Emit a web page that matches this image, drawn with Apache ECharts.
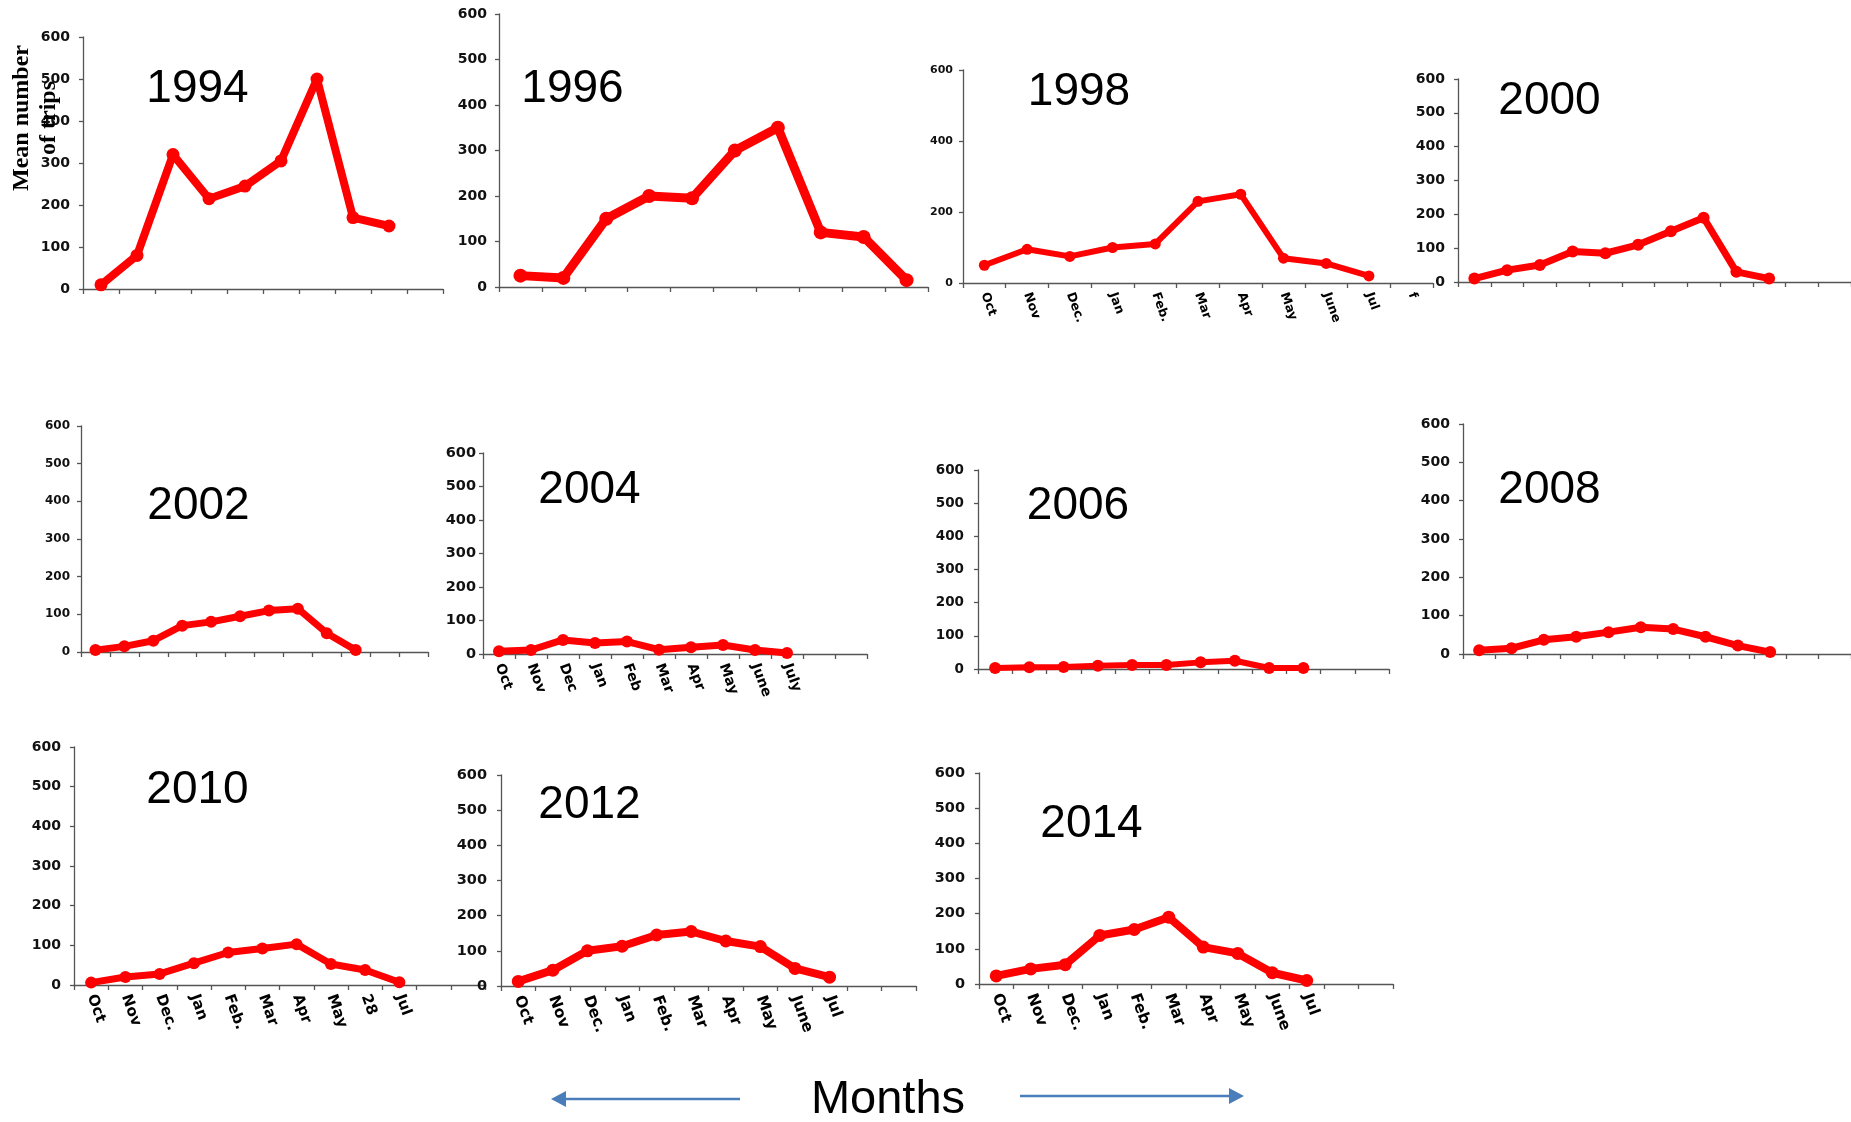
<!DOCTYPE html>
<html><head><meta charset="utf-8">
<script src="https://cdn.jsdelivr.net/npm/echarts@6/dist/echarts.min.js"></script>
<style>html,body{margin:0;padding:0;background:#fff}#c{width:1851px;height:1122px}</style>
</head><body><div id="c"></div>
<script>
// ---- data ----
const years = ['1994','1996','1998','2000','2002','2004','2006','2008','2010','2012','2014'];
const blank10 = ['','','','','','','','','',''];
const blank12 = ['','','','','','','','','','','',''];
const months1998 = ['Oct','Nov','Dec.','Jan','Feb.','Mar','Apr','May','June','Jul','f'];
const months2004 = ['Oct','Nov','Dec','Jan','Feb','Mar','Apr','May','June','July','',''];
const months2010 = ['Oct','Nov','Dec.','Jan','Feb.','Mar','Apr','May','28','Jul','',''];
const months2012 = ['Oct','Nov','Dec.','Jan','Feb.','Mar','Apr','May','June','Jul','',''];
const months2014 = ['Oct','Nov','Dec.','Jan','Feb.','Mar','Apr','May','June','Jul','',''];

const v1994 = [10,80,320,215,245,305,500,170,150];
const v1996 = [25,20,150,200,195,300,350,120,110,15];
const v1998 = [50,95,75,100,110,230,250,70,55,20];
const v2000 = [10,35,50,90,85,110,150,190,30,10];
const v2002 = [5,15,30,70,80,95,110,115,50,5];
const v2004 = [8,12,42,33,37,13,20,27,12,3];
const v2006 = [3,5,6,10,12,12,20,25,3,3];
const v2008 = [10,15,37,45,57,70,65,45,22,5];
const v2010 = [6,20,28,55,82,92,103,53,38,7];
const v2012 = [13,45,100,113,145,155,128,112,50,25];
const v2014 = [23,43,55,138,155,190,105,87,32,10];

const yMax = 600;
const yStep = [100,100,200,100,100,100,100,100,100,100,100];

const cats = [blank10,blank10,months1998,blank12,blank12,months2004,blank12,blank12,months2010,months2012,months2014];
const vals = [v1994,v1996,v1998,v2000,v2002,v2004,v2006,v2008,v2010,v2012,v2014];

// ---- layout (px) ----
const layout = [
 {l:83,  t:37,  w:360, h:252, yf:14,  ym:13, xf:12,  lw:8, ss:13, tx:197.5, ty:89.5},
 {l:499, t:14,  w:429, h:273, yf:14,  ym:12, xf:12,  lw:9, ss:14, tx:572.5, ty:89.5},
 {l:963, t:70,  w:470, h:213, yf:11,  ym:10, xf:12.5,lw:6, ss:11, tx:1079,  ty:92.5},
 {l:1458,t:79,  w:407, h:203, yf:14,  ym:13, xf:12,  lw:7, ss:12, tx:1549.5,ty:101.5},
 {l:81,  t:426, w:347, h:226, yf:12,  ym:11, xf:12,  lw:7, ss:12, tx:198.5, ty:506.5},
 {l:483, t:453, w:384, h:201, yf:14.5,ym:7,  xf:14,  lw:7, ss:12, tx:589.5, ty:490},
 {l:978, t:470, w:411, h:199, yf:13.5,ym:14, xf:12,  lw:6, ss:12, tx:1078,  ty:506.5},
 {l:1463,t:424, w:410, h:230, yf:14,  ym:13, xf:12,  lw:7, ss:12, tx:1549.5,ty:490.5},
 {l:74,  t:747, w:411, h:238, yf:14,  ym:13, xf:15,  lw:7, ss:12, tx:197.5, ty:790},
 {l:501, t:775, w:415, h:211, yf:14.5,ym:14, xf:15.5,lw:8, ss:13, tx:589.5, ty:805.5},
 {l:979, t:773, w:414, h:211, yf:14.5,ym:14, xf:15.5,lw:8, ss:13, tx:1091.5,ty:824}
];

const RED = '#ff0000', AX = '#555555';
const grid = [], xAxis = [], yAxis = [], series = [], graphic = [];
layout.forEach((p, i) => {
  grid.push({left:p.l, top:p.t, width:p.w, height:p.h, containLabel:false});
  const showX = cats[i].some(c => c !== '');
  xAxis.push({
    type:'category', gridIndex:i, data:cats[i], boundaryGap:true,
    axisLine:{show:true, lineStyle:{color:AX, width:1.3}},
    axisTick:{show:true, length:5, interval:0, lineStyle:{color:AX, width:1.3}},
    axisLabel:{show:showX, interval:0, rotate:-70, margin:10, color:'#000',
      fontFamily:'DejaVu Sans', fontWeight:'bold', fontSize:p.xf},
    splitLine:{show:false}
  });
  yAxis.push({
    type:'value', gridIndex:i, min:0, max:yMax, interval:yStep[i],
    axisLine:{show:true, lineStyle:{color:AX, width:1.3}},
    axisTick:{show:true, length:4, lineStyle:{color:AX, width:1.3}},
    axisLabel:{margin:p.ym, color:'#111', fontFamily:'DejaVu Sans', fontWeight:'bold', fontSize:p.yf},
    splitLine:{show:false}
  });
  series.push({
    type:'line', xAxisIndex:i, yAxisIndex:i, data:vals[i],
    symbol:'circle', symbolSize:p.ss, showSymbol:true,
    lineStyle:{color:RED, width:p.lw}, itemStyle:{color:RED},
    emphasis:{disabled:true}, animation:false, z:3
  });
  graphic.push({
    type:'text', x:p.tx, y:p.ty, z:10,
    style:{text:years[i], font:'46px "Liberation Sans", Arial, sans-serif', fill:'#000',
      align:'center', verticalAlign:'middle', textAlign:'center', textVerticalAlign:'middle'}
  });
});

// y-axis title
graphic.push({
  type:'text', x:35, y:118, rotation:Math.PI/2, z:10,
  style:{text:'Mean number\nof trips', font:'bold 24px "Liberation Serif", "Times New Roman", serif',
    fill:'#000', lineHeight:27, align:'center', verticalAlign:'middle', textAlign:'center', textVerticalAlign:'middle'}
});
// Months label and arrows
graphic.push({
  type:'text', x:888, y:1100, z:10,
  style:{text:'Months', font:'47px "Liberation Sans", Arial, sans-serif', fill:'#000',
    align:'center', verticalAlign:'middle', textAlign:'center', textVerticalAlign:'middle'}
});
const ARW = '#4a7ebb';
graphic.push({type:'line', shape:{x1:563, y1:1099, x2:740, y2:1099}, style:{stroke:ARW, lineWidth:2.5}});
graphic.push({type:'polygon', shape:{points:[[551,1099],[566,1091],[566,1107]]}, style:{fill:ARW}});
graphic.push({type:'line', shape:{x1:1020, y1:1096, x2:1232, y2:1096}, style:{stroke:ARW, lineWidth:2.5}});
graphic.push({type:'polygon', shape:{points:[[1244,1096],[1229,1088],[1229,1104]]}, style:{fill:ARW}});

const chart = echarts.init(document.getElementById('c'), null, {renderer:'canvas'});
chart.setOption({animation:false, backgroundColor:'#fff', grid, xAxis, yAxis, series, graphic});
</script>
</body></html>
